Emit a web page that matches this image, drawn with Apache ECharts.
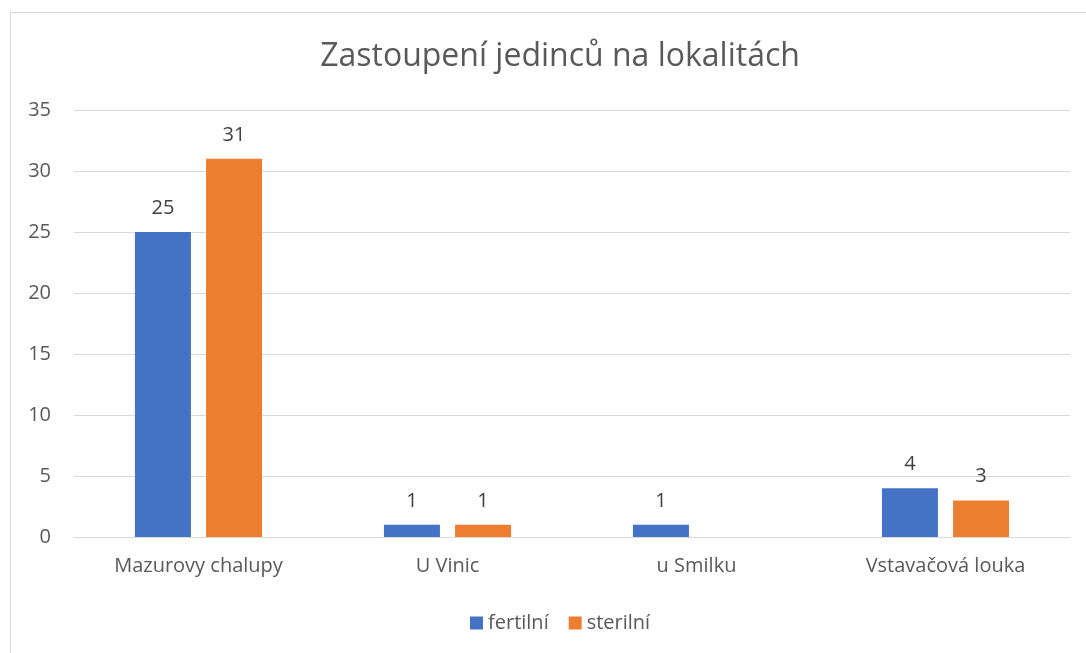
<!DOCTYPE html>
<html>
<head>
<meta charset="utf-8">
<script src="https://cdn.jsdelivr.net/npm/echarts@6/dist/echarts.min.js"></script>
<style>
  html, body { margin: 0; padding: 0; background: #fff; }
  #chart { width: 1086px; height: 653px; }
</style>
</head>
<body>
<div id="chart"></div>
<script>
var categories = ['Mazurovy chalupy', 'U Vinic', 'u Smilku', 'Vstavačová louka'];
var fertilni = [25, 1, 1, 4];
var sterilni = [31, 1, null, 3];
var yTicks = { min: 0, max: 35, interval: 5 };

var font = '"Open Sans", "Noto Sans", sans-serif';
var grey = '#595959';
var rule = '#d9d9d9';

var chart = echarts.init(document.getElementById('chart'), null, { renderer: 'canvas' });
chart.setOption({
  animation: false,
  backgroundColor: '#fff',
  textStyle: { fontFamily: font },
  // outer chart frame
  graphic: [{
    type: 'rect',
    shape: { x: 10.5, y: 12.5, width: 1200, height: 800 },
    style: { fill: 'none', stroke: rule, lineWidth: 1 },
    silent: true
  }],
  title: {
    text: 'Zastoupení jedinců na lokalitách',
    left: 555,
    top: 36,
    textAlign: 'center',
    textStyle: { color: grey, fontSize: 32, fontWeight: 'normal', fontFamily: font }
  },
  legend: {
    left: 465,
    top: 608,
    itemWidth: 13,
    itemHeight: 13,
    itemGap: 20,
    icon: 'rect',
    textStyle: { color: grey, fontSize: 20, fontFamily: font },
    data: ['fertilní', 'sterilní']
  },
  grid: { left: 74, right: 16, top: 110, bottom: 116 },
  xAxis: {
    type: 'category',
    data: categories,
    axisLine: { show: true, lineStyle: { color: rule, width: 1 } },
    axisTick: { show: false },
    axisLabel: { color: grey, fontSize: 20, margin: 19, fontFamily: font }
  },
  yAxis: {
    type: 'value',
    min: yTicks.min,
    max: yTicks.max,
    interval: yTicks.interval,
    axisLine: { show: false },
    axisTick: { show: false },
    axisLabel: { color: grey, fontSize: 20, margin: 23, fontFamily: font },
    splitLine: { lineStyle: { color: rule, width: 1 } }
  },
  series: [{
    name: 'fertilní',
    type: 'bar',
    data: fertilni,
    barWidth: 56,
    barGap: '27%',
    itemStyle: { color: '#4472C4' },
    label: { show: true, position: 'top', distance: 14, color: '#404040', fontSize: 20, fontFamily: font }
  }, {
    name: 'sterilní',
    type: 'bar',
    data: sterilni,
    barWidth: 56,
    barGap: '27%',
    itemStyle: { color: '#ED7D31' },
    label: { show: true, position: 'top', distance: 14, color: '#404040', fontSize: 20, fontFamily: font }
  }]
});
window.addEventListener('resize', function() { chart.resize(); });
</script>
</body>
</html>
